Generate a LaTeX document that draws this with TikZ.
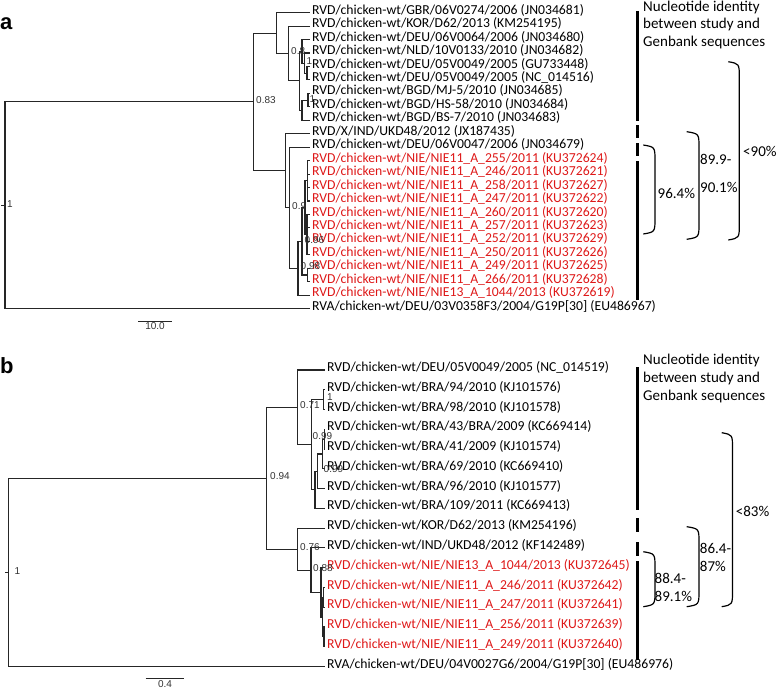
\documentclass[tikz,border=0pt]{standalone}
\usepackage{fontspec}
\setmainfont{Carlito}
\newfontfamily\figsans{Liberation Sans}
\usetikzlibrary{calc}
\definecolor{studyred}{RGB}{222,24,24}
\tikzset{
  phybranch/.style={line width=1.1pt,draw=black!85},
  leaflab/.style={anchor=west,inner xsep=2pt,inner ysep=0pt,
    text height=9pt,text depth=5.8pt,font=\fontsize{13.7}{15}\selectfont},
  studyleaf/.style={leaflab,text=studyred},
  support/.style={anchor=west,inner sep=0pt,text=black!80,
    font=\figsans\fontsize{10}{11}\selectfont},
  scalebar/.style={line width=1pt,draw=black!85},
  idbar/.style={line width=3.5pt},
  idbrace/.style={line width=1.2pt},
  idtext/.style={anchor=west,inner sep=0pt,align=left,
    font=\fontsize{15}{17.8}\selectfont},
  panellab/.style={anchor=base west,inner sep=0pt,
    font=\figsans\bfseries\fontsize{22}{24}\selectfont}
}
% right-hand parenthesis: x of ends, x of bulge, y top, y bottom
\newcommand{\idparen}[4]{%
  \draw[idbrace] (#1,#3) .. controls (#2,{#3+2}) .. (#2,{#3+16})
    -- (#2,{#4-16}) .. controls (#2,{#4-2}) .. (#1,#4);}

\begin{document}
\begin{tikzpicture}[x=1pt,y=-1pt]
  \useasboundingbox (0,0) rectangle (778,690);

  % (a) first tree
  \node[panellab] (pa) at (0,29.5) {a};
  \node[leaflab] (a0) at (310,12.7) {RVD/chicken-wt/GBR/06V0274/2006 (JN034681)};
  \node[leaflab] (a1) at (310,26.15) {RVD/chicken-wt/KOR/D62/2013 (KM254195)};
  \node[leaflab] (a2) at (310,39.6) {RVD/chicken-wt/DEU/06V0064/2006 (JN034680)};
  \node[leaflab] (a3) at (310,53.05) {RVD/chicken-wt/NLD/10V0133/2010 (JN034682)};
  \node[leaflab] (a4) at (310,66.5) {RVD/chicken-wt/DEU/05V0049/2005 (GU733448)};
  \node[leaflab] (a5) at (310,79.95) {RVD/chicken-wt/DEU/05V0049/2005 (NC\_014516)};
  \node[leaflab] (a6) at (310,93.4) {RVD/chicken-wt/BGD/MJ-5/2010 (JN034685)};
  \node[leaflab] (a7) at (310,106.85) {RVD/chicken-wt/BGD/HS-58/2010 (JN034684)};
  \node[leaflab] (a8) at (310,120.3) {RVD/chicken-wt/BGD/BS-7/2010 (JN034683)};
  \node[leaflab] (a9) at (310,133.75) {RVD/X/IND/UKD48/2012 (JX187435)};
  \node[leaflab] (a10) at (310,147.2) {RVD/chicken-wt/DEU/06V0047/2006 (JN034679)};
  \node[studyleaf] (a11) at (310,160.65) {RVD/chicken-wt/NIE/NIE11\_A\_255/2011 (KU372624)};
  \node[studyleaf] (a12) at (310,174.1) {RVD/chicken-wt/NIE/NIE11\_A\_246/2011 (KU372621)};
  \node[studyleaf] (a13) at (310,187.55) {RVD/chicken-wt/NIE/NIE11\_A\_258/2011 (KU372627)};
  \node[studyleaf] (a14) at (310,201) {RVD/chicken-wt/NIE/NIE11\_A\_247/2011 (KU372622)};
  \node[studyleaf] (a15) at (310,214.45) {RVD/chicken-wt/NIE/NIE11\_A\_260/2011 (KU372620)};
  \node[studyleaf] (a16) at (310,227.9) {RVD/chicken-wt/NIE/NIE11\_A\_257/2011 (KU372623)};
  \node[studyleaf] (a17) at (310,241.35) {RVD/chicken-wt/NIE/NIE11\_A\_252/2011 (KU372629)};
  \node[studyleaf] (a18) at (310,254.8) {RVD/chicken-wt/NIE/NIE11\_A\_250/2011 (KU372626)};
  \node[studyleaf] (a19) at (310,268.25) {RVD/chicken-wt/NIE/NIE11\_A\_249/2011 (KU372625)};
  \node[studyleaf] (a20) at (310,281.7) {RVD/chicken-wt/NIE/NIE11\_A\_266/2011 (KU372628)};
  \node[studyleaf] (a21) at (310,295.15) {RVD/chicken-wt/NIE/NIE13\_A\_1044/2013 (KU372619)};
  \node[leaflab] (a22) at (310,308.6) {RVA/chicken-wt/DEU/03V0358F3/2004/G19P[30] (EU486967)};

  \coordinate (stuba) at (1,205.3);
  \coordinate (roota) at (5,205.3);
  \coordinate (n083) at (253.3,101.9);
  \coordinate (n277) at (276.7,33.1);
  \coordinate (n288) at (288.3,53.5);
  \coordinate (na7) at (299.5,80.8);
  \coordinate (nX) at (302,51.4);
  \coordinate (nX2) at (304.5,63.1);
  \coordinate (nX3) at (307,73.2);
  \coordinate (nY) at (302,110.2);
  \coordinate (nY2) at (308,100.1);
  \coordinate (nB) at (285.7,170.7);
  \coordinate (nB2) at (289.5,207.7);
  \coordinate (nB3) at (298,268.3);
  \coordinate (nC) at (302,241.4);
  \coordinate (nD) at (305,207.7);
  \coordinate (nD1) at (307.5,180.8);
  \coordinate (nD2) at (307,234.6);
  \coordinate (nE) at (307.5,275);

  \draw[phybranch] (stuba) -- (roota) (roota) |- (n083) (roota) |- (a22);
  \draw[phybranch] (n083) |- (n277) (n083) |- (nB);
  \draw[phybranch] (n277) |- (a0) (n277) |- (n288);
  \draw[phybranch] (n288) |- (a1) (n288) |- (na7);
  \draw[phybranch] (na7) |- (nX) (na7) |- (nY);
  \draw[phybranch] (nX) |- (a2) (nX) |- (nX2) (nX2) |- (a3) (nX2) |- (nX3);
  \draw[phybranch] (nX3) |- (a4) (nX3) |- (a5);
  \draw[phybranch] (nY) |- (nY2) (nY) |- (a8) (nY2) |- (a6) (nY2) |- (a7);
  \draw[phybranch] (nB) |- (a9) (nB) |- (nB2) (nB2) |- (a10) (nB2) |- (nB3);
  \draw[phybranch] (nB3) |- (nC) (nB3) |- (a21) (nC) |- (nD) (nC) |- (nE);
  \draw[phybranch] (nD) |- (nD1) (nD) |- (nD2);
  \draw[phybranch] (nD1) |- (a11) (nD1) |- (a12) (nD1) |- (a13) (nD1) |- (a14);
  \draw[phybranch] (nD2) |- (a15) (nD2) |- (a16) (nD2) |- (a17) (nD2) |- (a18);
  \draw[phybranch] (nE) |- (a19) (nE) |- (a20);

  \node[support] (sa1) at (7,204) {1};
  \node[support] (sa2) at (256,100) {0.83};
  \node[support] (sa3) at (291,51.5) {0.8};
  \node[support] (sa4) at (306.5,61.5) {1};
  \node[support] (sa5) at (309.5,99) {1};
  \node[support] (sa6) at (292,206) {0.9};
  \node[support] (sa7) at (304.5,240) {0.96};
  \node[support] (sa8) at (300.5,266.5) {0.98};

  \coordinate (sca1) at (138,321);
  \coordinate (sca2) at (172,321);
  \draw[scalebar] (sca1) -- node[support,below=1.5pt] (sca) {10.0} (sca2);

  % identity bars and ranges (a)
  \node[idtext,anchor=north west] (ha) at (643,0.5) {Nucleotide identity\\between study and\\Genbank sequences};
  \draw[idbar] (637.7,11) -- (637.7,120.7);
  \draw[idbar] (637.7,125) -- (637.7,138.3);
  \draw[idbar] (637.7,143.3) -- (637.7,156);
  \draw[idbar] (637.7,161) -- (637.7,300);
  \idparen{643.3}{655}{145}{234}
  \idparen{686.7}{699}{131.7}{239.3}
  \idparen{728.3}{739.3}{61.7}{240}
  \node[idtext] (pa1) at (657.5,193.3) {96.4\%};
  \node[idtext] (pa2) at (700,173.8) {89.9-\\[10pt]90.1\%};
  \node[idtext] (pa3) at (743,151.7) {<90\%};

  % (b) second tree
  \node[panellab] (pb) at (0,373.3) {b};
  \node[leaflab] (b0) at (325,370) {RVD/chicken-wt/DEU/05V0049/2005 (NC\_014519)};
  \node[leaflab] (b1) at (325,389.77) {RVD/chicken-wt/BRA/94/2010 (KJ101576)};
  \node[leaflab] (b2) at (325,409.54) {RVD/chicken-wt/BRA/98/2010 (KJ101578)};
  \node[leaflab] (b3) at (325,429.31) {RVD/chicken-wt/BRA/43/BRA/2009 (KC669414)};
  \node[leaflab] (b4) at (325,449.08) {RVD/chicken-wt/BRA/41/2009 (KJ101574)};
  \node[leaflab] (b5) at (325,468.85) {RVD/chicken-wt/BRA/69/2010 (KC669410)};
  \node[leaflab] (b6) at (325,488.62) {RVD/chicken-wt/BRA/96/2010 (KJ101577)};
  \node[leaflab] (b7) at (325,508.39) {RVD/chicken-wt/BRA/109/2011 (KC669413)};
  \node[leaflab] (b8) at (325,528.16) {RVD/chicken-wt/KOR/D62/2013 (KM254196)};
  \node[leaflab] (b9) at (325,547.93) {RVD/chicken-wt/IND/UKD48/2012 (KF142489)};
  \node[studyleaf] (b10) at (325,567.7) {RVD/chicken-wt/NIE/NIE13\_A\_1044/2013 (KU372645)};
  \node[studyleaf] (b11) at (325,587.47) {RVD/chicken-wt/NIE/NIE11\_A\_246/2011 (KU372642)};
  \node[studyleaf] (b12) at (325,607.24) {RVD/chicken-wt/NIE/NIE11\_A\_247/2011 (KU372641)};
  \node[studyleaf] (b13) at (325,627.01) {RVD/chicken-wt/NIE/NIE11\_A\_256/2011 (KU372639)};
  \node[studyleaf] (b14) at (325,646.78) {RVD/chicken-wt/NIE/NIE11\_A\_249/2011 (KU372640)};
  \node[leaflab] (b15) at (325,666.55) {RVA/chicken-wt/DEU/04V0027G6/2004/G19P[30] (EU486976)};

  \coordinate (stubb) at (5,572.4);
  \coordinate (rootb) at (8.3,572.4);
  \coordinate (n094) at (266.7,478.3);
  \coordinate (n071) at (297.7,407.4);
  \coordinate (nP) at (311.7,444.8);
  \coordinate (nN12) at (323.5,399.7);
  \coordinate (nQ) at (315,489.8);
  \coordinate (nR) at (317.5,471.3);
  \coordinate (nT) at (322.3,454);
  \coordinate (nN34) at (324.3,439.2);
  \coordinate (n076) at (297.7,549.2);
  \coordinate (nU) at (311,570.2);
  \coordinate (nV) at (321,592.4);
  \coordinate (nW) at (322.5,617.1);
  \coordinate (nX1) at (323.5,597.4);
  \coordinate (nX4) at (324,636.9);

  \draw[phybranch] (stubb) -- (rootb) (rootb) |- (n094) (rootb) |- (b15);
  \draw[phybranch] (n094) |- (n071) (n094) |- (n076);
  \draw[phybranch] (n071) |- (b0) (n071) |- (nP);
  \draw[phybranch] (nP) |- (nN12) (nP) |- (nQ) (nN12) |- (b1) (nN12) |- (b2);
  \draw[phybranch] (nQ) |- (nR) (nQ) |- (b7) (nR) |- (nT) (nR) |- (b6);
  \draw[phybranch] (nT) |- (nN34) (nT) |- (b5) (nN34) |- (b3) (nN34) |- (b4);
  \draw[phybranch] (n076) |- (b8) (n076) |- (nU) (nU) |- (b9) (nU) |- (nV);
  \draw[phybranch] (nV) |- (b10) (nV) |- (nW) (nW) |- (nX1) (nW) |- (nX4);
  \draw[phybranch] (nX1) |- (b11) (nX1) |- (b12) (nX4) |- (b13) (nX4) |- (b14);

  \node[support] (sb1) at (14.5,571.5) {1};
  \node[support] (sb2) at (270,476) {0.94};
  \node[support] (sb3) at (300,405) {0.71};
  \node[support] (sb4) at (327,397) {1};
  \node[support] (sb5) at (312.5,436) {0.99};
  \node[support] (sb6) at (323.5,469) {0.99};
  \node[support] (sb7) at (300,547) {0.76};
  \node[support] (sb8) at (313,568) {0.88};

  \coordinate (scb1) at (145.7,678.3);
  \coordinate (scb2) at (184.3,678.3);
  \draw[scalebar] (scb1) -- node[support,below=1.5pt] (scb) {0.4} (scb2);

  % identity bars and ranges (b)
  \node[idtext,anchor=north west] (hb) at (643,353.8) {Nucleotide identity\\between study and\\Genbank sequences};
  \draw[idbar] (637.7,367.3) -- (637.7,510);
  \draw[idbar] (637.7,518.3) -- (637.7,532.3);
  \draw[idbar] (637.7,542.3) -- (637.7,556);
  \draw[idbar] (637.7,561) -- (637.7,660);
  \idparen{643.3}{655}{551.7}{606.7}
  \idparen{686.7}{699}{526.7}{606.7}
  \idparen{721.7}{732.5}{432.7}{606.7}
  \node[idtext] (pb1) at (654.5,587.2) {88.4-\\89.1\%};
  \node[idtext] (pb2) at (699.7,557.2) {86.4-\\87\%};
  \node[idtext] (pb3) at (735.7,511.7) {<83\%};
\end{tikzpicture}
\end{document}
